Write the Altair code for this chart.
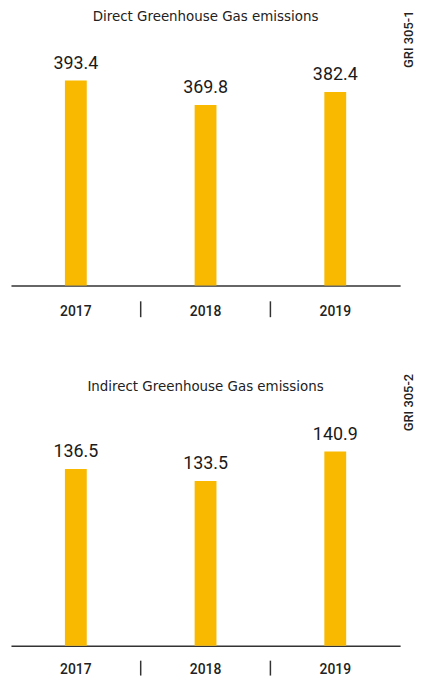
import altair as alt
import pandas as pd

years = ["2017", "2018", "2019"]
direct = [393.4, 369.8, 382.4]
indirect = [136.5, 133.5, 140.9]
separators = ["2018", "2019"]
gri_labels = ["GRI 305-1", "GRI 305-2"]
titles = ["Direct Greenhouse Gas emissions", "Indirect Greenhouse Gas emissions"]

BAR = "#F8B900"
W = 392


def panel(values, title, gri_label, h, ydom, gri_y, title_y, lab_pad, sep0, sep1):
    df = pd.DataFrame({"year": years, "value": values})
    sep = pd.DataFrame({"year": separators})
    x = alt.X(
        "year:N",
        sort=years,
        scale=alt.Scale(paddingInner=0, paddingOuter=0),
        axis=alt.Axis(
            title=None, ticks=False, tickSize=0, labelAngle=0,
            labelFont="Roboto", labelFontSize=14, labelFontWeight=500,
            labelColor="#222", labelPadding=lab_pad, labelBaseline="top",
            domainColor="#333", domainWidth=1.5, grid=False,
        ),
    )
    y = alt.Y("value:Q", scale=alt.Scale(domain=ydom, zero=False, nice=False), axis=None)
    bars = alt.Chart(df).mark_bar(size=22, color=BAR).encode(
        x=x, y=y, y2=alt.datum(ydom[0])
    )
    labels = alt.Chart(df).mark_text(
        baseline="bottom", dy=-8, font="Roboto", fontSize=18, fontWeight="normal", color="#1a1a1a"
    ).encode(x=x, y=y, text=alt.Text("value:Q", format=".1f"))
    seps = alt.Chart(sep).mark_rule(color="#333", strokeWidth=1.5).encode(
        x=alt.X("year:N", sort=years, bandPosition=0),
        y=alt.value(h + sep0),
        y2=alt.value(h + sep1),
    )
    g = alt.Chart(pd.DataFrame({"t": [gri_label]})).mark_text(
        angle=270, font="Roboto", fontSize=13, fontWeight=500, color="#222",
        align="center", baseline="middle",
    ).encode(text="t:N", x=alt.value(401), y=alt.value(gri_y))
    t = alt.Chart(pd.DataFrame({"t": [title]})).mark_text(
        font="DejaVu Sans", fontSize=13.5, color="#222", align="center", baseline="alphabetic",
    ).encode(text="t:N", x=alt.value(W / 2), y=alt.value(title_y))
    return alt.layer(bars, labels, seps, g, t).properties(width=W, height=h)


top = panel(direct, titles[0], gri_labels[0], 246, [195, 431.5], -2, -20, 19, 16, 32)
bottom = panel(indirect, titles[1], gri_labels[1], 244, [92.44, 152.84], -1, -13, 17, 15, 30)

chart = alt.vconcat(top, bottom, spacing=56).properties(
    padding={"left": 3, "top": 0, "right": 0, "bottom": 0}
).configure_view(stroke=None)

chart.save("out.html", embed_options={"renderer": "svg", "actions": False})
